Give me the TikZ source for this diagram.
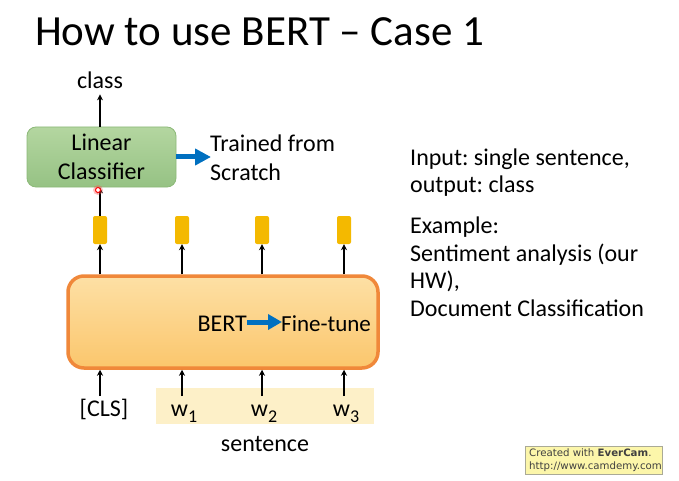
\documentclass[tikz,border=0pt]{standalone}
\usepackage{fontspec}
\setmainfont{Carlito}
\newfontfamily\evfont{DejaVu Sans}
\usetikzlibrary{arrows.meta}
\frenchspacing
\definecolor{bluearr}{RGB}{0,112,192}
\definecolor{yel}{RGB}{244,185,0}
\definecolor{bordor}{RGB}{240,136,58}
\definecolor{band}{RGB}{253,240,200}
\definecolor{evbg}{RGB}{252,246,170}
\newcommand{\subn}[1]{\raisebox{-0.28em}{\fontsize{18}{20}\selectfont #1}}
\tikzset{
  txt/.style={font=\fontsize{24}{28}\selectfont, inner sep=0pt},
  blk/.style={-{Stealth[length=6pt,width=6pt]}, line width=1.6pt},
  thick arr/.style={-{Triangle[length=16pt,width=16pt]}, line width=5pt, bluearr},
  vec/.style={draw=none, fill=yel, rounded corners=2pt, minimum width=14pt, minimum height=28pt, inner sep=0pt},
  evtxt/.style={anchor=base west, inner sep=0pt, font=\evfont\fontsize{10.2}{12}\selectfont, text=black!75},
}
\begin{document}
\begin{tikzpicture}[x=1pt,y=-1pt]
\useasboundingbox[fill=white] (0,0) rectangle (679,481);
% title
\node[anchor=base west, inner sep=0pt, font=\fontsize{43}{50}\selectfont] (title) at (35,46) {How to use BERT – Case 1};
% classifier
\node[draw={rgb,255:red,140;green,185;blue,120}, line width=0.8pt, rounded corners=9pt,
      top color={rgb,255:red,180;green,214;blue,160}, bottom color={rgb,255:red,150;green,194;blue,132},
      minimum width=149pt, minimum height=60pt, inner sep=0pt] (lc) at (101.5,157) {};
\node[txt, anchor=base] (lc1) at (101.5,151) {Linear};
\node[txt, anchor=base] (lc2) at (101.5,179) {Classifier};
\node[txt, anchor=base] (cls) at (100,89) {class};
\draw[blk] (lc.north -| cls) -- ([yshift=-5pt]cls.south);
% trained from scratch
\node[txt, anchor=base west] (tr1) at (210,152) {Trained from};
\node[txt, anchor=base west] (tr2) at (210,180) {Scratch};
\coordinate (trw) at (211,157);
\draw[thick arr] (lc.east |- trw) -- (trw);
% yellow vectors
\node[vec] (v0) at (100,230) {};
\node[vec] (v1) at (182,230) {};
\node[vec] (v2) at (262,230) {};
\node[vec] (v3) at (344,230) {};
\draw[blk] (v0.north) -- (lc.south -| v0);
\fill[red!70, opacity=0.35] (98,190) circle (5pt);
\draw[red, line width=1pt, fill=white] (98,190) circle (2.5pt);
% BERT box
\node[draw=bordor, line width=3.5pt, rounded corners=16pt,
      top color={rgb,255:red,253;green,224;blue,165}, bottom color={rgb,255:red,251;green,198;blue,108},
      minimum width=310pt, minimum height=92pt, inner sep=0pt] (bert) at (223,322) {};
\node[txt, anchor=base east] (bt) at (247,331) {BERT};
\node[txt, anchor=base west, font=\fontsize{23}{26}\selectfont] (ft) at (281,331) {Fine-tune};
\coordinate (ftw) at (282,322);
\draw[-{Triangle[length=14pt,width=15pt]}, line width=5pt, bluearr] (bt.east |- ftw) -- (ftw);
\foreach \i in {0,1,2,3}{
  \draw[blk] (bert.north -| v\i) -- (v\i.south);
}
% inputs
\fill[band] (156,388) rectangle (374,424);
\node[txt, anchor=base] (cls0) at (104,416) {[CLS]};
\node[txt, anchor=base] (w1) at (184,416) {w\subn{1}};
\node[txt, anchor=base] (w2) at (264,416) {w\subn{2}};
\node[txt, anchor=base] (w3) at (346,416) {w\subn{3}};
\coordinate (i0) at (100,396);
\coordinate (i1) at (182,396);
\coordinate (i2) at (262,396);
\coordinate (i3) at (344,396);
\foreach \i in {0,1,2,3}{
  \draw[blk] (i\i) -- (bert.south -| i\i);
}
\node[txt, anchor=base] (sent) at (265,451) {sentence};
% right text
\node[txt, anchor=base west] (r1) at (410,165) {Input: single sentence,};
\node[txt, anchor=base west] (r2) at (410,193) {output: class};
\node[txt, anchor=base west] (r3) at (410,233) {Example:};
\node[txt, anchor=base west] (r4) at (410,261) {Sentiment analysis (our};
\node[txt, anchor=base west] (r5) at (410,288) {HW),};
\node[txt, anchor=base west] (r6) at (410,316) {Document Classification};
% evercam
\node[draw={rgb,255:red,170;green,170;blue,150}, line width=0.6pt, fill=evbg, minimum width=137pt, minimum height=28pt, inner sep=0pt] (ev) at (593.5,460) {};
\node[evtxt] (ev1) at (529,456) {Created with \textbf{EverCam}.};
\node[evtxt] (ev2) at (529,469.5) {http://www.camdemy.com};
\end{tikzpicture}
\end{document}
